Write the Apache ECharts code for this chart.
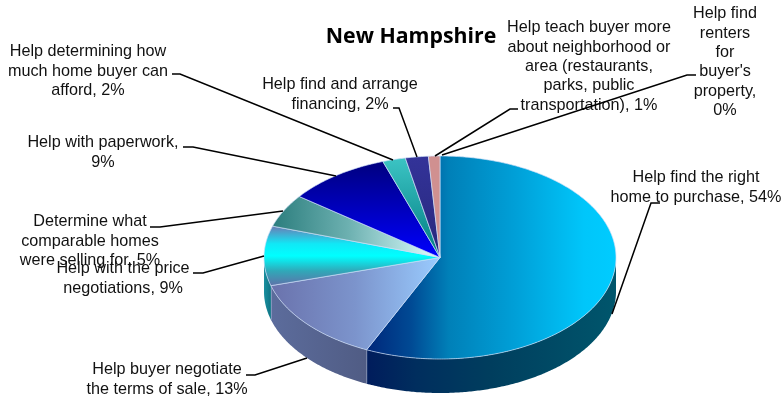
<!DOCTYPE html>
<html>
<head>
<meta charset="utf-8">
<style>html,body{margin:0;padding:0;background:#fff}#chart{width:783px;height:401px}</style>
<script src="https://cdn.jsdelivr.net/npm/echarts@6/dist/echarts.min.js"></script>
</head>
<body>
<div id="chart"></div>
<script>
// Share of buyers by the help they wanted from their agent, clockwise from 12 o'clock
const categories = [
  "Help find the right home to purchase",
  "Help buyer negotiate the terms of sale",
  "Help with the price negotiations",
  "Determine what comparable homes were selling for",
  "Help with paperwork",
  "Help determining how much home buyer can afford",
  "Help find and arrange financing",
  "Help teach buyer more about neighborhood or area (restaurants, parks, public transportation)",
  "Help find renters for buyer's property"
];
const values = [54, 13, 9, 5, 9, 2, 2, 1, 0];

// Wrapped label text
const labelLines = [
  ["Help find the right", "home to purchase, 54%"],
  ["Help buyer negotiate", "the terms of sale, 13%"],
  ["Help with the price", "negotiations, 9%"],
  ["Determine what", "comparable homes", "were selling for, 5%"],
  ["Help with paperwork,", "9%"],
  ["Help determining how", "much home buyer can", "afford, 2%"],
  ["Help find and arrange", "financing, 2%"],
  ["Help teach buyer more", "about neighborhood or", "area (restaurants,", "parks, public", "transportation), 1%"],
  ["Help find", "renters", "for", "buyer's", "property,", "0%"]
];

// Label centre x and first line middle y
const labelAnchors = [
  [696, 178], [167, 370], [123, 269], [90, 222], [103, 143],
  [88, 52], [340, 85], [589, 28], [725, 14]
];
// Callout polylines, label end first
const leaderPaths = [
  [[660, 203], [651, 203], [612, 314]],
  [[246, 375], [255, 375], [307, 358]],
  [[193, 273], [203, 273], [264, 256]],
  [[150, 227], [160, 227], [283, 211]],
  [[183, 147], [193, 147], [336, 176]],
  [[172, 74], [180, 74], [393, 160]],
  [[393, 108], [399, 108], [417, 157]],
  [[518, 109], [510, 109], [435, 156]],
  [[696, 75], [687, 75], [442, 155]]
];

function grad(horizontal, stops) {
  return {
    type: 'linear', x: 0, y: 0, x2: horizontal ? 1 : 0, y2: horizontal ? 0 : 1,
    colorStops: stops.map(s => ({ offset: s[0], color: s[1] }))
  };
}

const topFills = [
  grad(true, [[0, '#00267a'], [0.18, '#004a94'], [0.33, '#0080b8'], [0.6, '#00a0d8'], [0.87, '#00c6fa'], [1, '#00ccff']]),
  grad(true, [[0, '#6a72ac'], [0.5, '#7c94cc'], [1, '#9accff']]),
  grad(false, [[0, '#6f78b2'], [0.3, '#10e8f6'], [0.5, '#00ffff'], [0.75, '#30a8b8'], [1, '#6070a8']]),
  grad(true, [[0, '#2b7d7d'], [0.45, '#6cb0b0'], [0.9, '#ccf2f2'], [1, '#ddf8f8']]),
  grad(false, [[0, '#00007e'], [1, '#0000ff']]),
  grad(false, [[0, '#3cc4c4'], [1, '#007c80']]),
  grad(false, [[0, '#333399'], [1, '#28287c']]),
  '#d09090',
  '#ffffff'
];
const wallFills = [
  grad(true, [[0, '#001c5c'], [0.2, '#002e5e'], [0.5, '#003e5e'], [1, '#00566c']]),
  grad(true, [[0, '#5c6c9c'], [1, '#505c84']]),
  grad(true, [[0, '#1a8f9f'], [1, '#0e7484']]),
  '#2b7d7d', '#00007e', '#007c80', '#28287c', '#d09090', '#ffffff'
];

// Tilted disc geometry
const CX = 440, CY = 257.5, RX = 176, RY = 101.5, DEPTH = 34;

const total = values.reduce((a, b) => a + b, 0);
let running = 0;
const sliceData = values.map((v, i) => {
  const start = running / total * Math.PI * 2;
  running += v;
  return { name: categories[i], value: [v, start, running / total * Math.PI * 2] };
});

function rim(angle, drop) {
  return [CX + RX * Math.sin(angle), CY - RY * Math.cos(angle) + (drop || 0)];
}
function arcPoints(a0, a1, drop) {
  const n = Math.max(2, Math.ceil(Math.abs(a1 - a0) / 0.01));
  const pts = [];
  for (let k = 0; k <= n; k++) pts.push(rim(a0 + (a1 - a0) * k / n, drop));
  return pts;
}

const SEAM = 'rgba(205,222,248,0.85)';

function renderWall(params, api) {
  const a0 = Math.max(api.value(1), Math.PI / 2);
  const a1 = Math.min(api.value(2), Math.PI * 1.5);
  if (a1 <= a0) return { type: 'group', children: [] };
  const upper = arcPoints(a0, a1, 0);
  const lower = arcPoints(a1, a0, DEPTH);
  const children = [{
    type: 'polygon',
    shape: { points: upper.concat(lower) },
    style: { fill: wallFills[params.dataIndex], stroke: null }
  }];
  if (a1 < Math.PI * 1.5) {
    children.push({
      type: 'line',
      shape: { x1: rim(a1)[0], y1: rim(a1)[1], x2: rim(a1)[0], y2: rim(a1, DEPTH)[1] },
      style: { stroke: SEAM, lineWidth: 1 }
    });
  }
  return { type: 'group', children };
}

function renderTop(params, api) {
  const a0 = api.value(1), a1 = api.value(2);
  if (a1 <= a0) return { type: 'group', children: [] };
  return {
    type: 'polygon',
    shape: { points: [[CX, CY]].concat(arcPoints(a0, a1, 0)) },
    style: { fill: topFills[params.dataIndex], stroke: SEAM, lineWidth: 0.8, lineJoin: 'round' }
  };
}

function renderCallout(params) {
  const i = params.dataIndex;
  const lines = labelLines[i];
  const [x, y] = labelAnchors[i];
  const children = [{
    type: 'polyline',
    shape: { points: leaderPaths[i] },
    style: { stroke: '#000', lineWidth: 1.5, fill: null }
  }];
  lines.forEach((line, k) => children.push({
    type: 'text',
    style: {
      text: line, x, y: y + k * 19.3,
      fill: '#111', font: '16.2px "Liberation Sans", Arial, sans-serif',
      align: 'center', verticalAlign: 'middle'
    }
  }));
  return { type: 'group', children };
}

const chart = echarts.init(document.getElementById('chart'), null, { renderer: 'canvas' });
chart.setOption({
  animation: false,
  backgroundColor: '#fff',
  title: {
    text: 'New Hampshire', left: 406, top: 32, textAlign: 'center', textVerticalAlign: 'middle',
    textStyle: { fontFamily: '"Open Sans", sans-serif', fontWeight: 'bold', fontSize: 21.3, color: '#000' }
  },
  series: [
    { type: 'custom', coordinateSystem: 'none', renderItem: renderWall, data: sliceData, silent: true },
    { type: 'custom', coordinateSystem: 'none', renderItem: renderTop, data: sliceData, silent: true },
    { type: 'custom', coordinateSystem: 'none', renderItem: renderCallout, data: sliceData, silent: true }
  ]
});
</script>
</body>
</html>
